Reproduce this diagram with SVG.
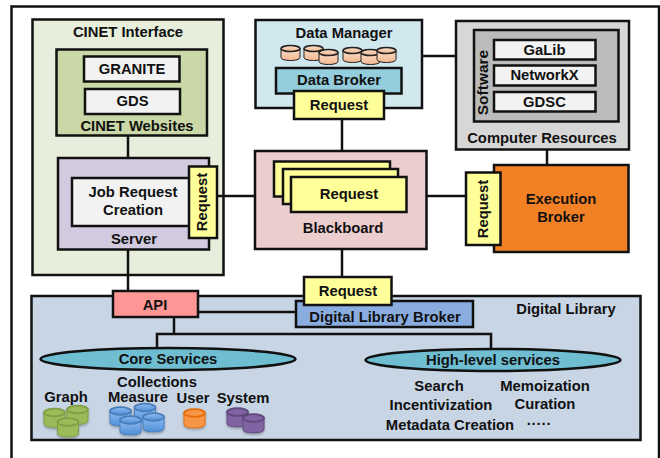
<svg xmlns="http://www.w3.org/2000/svg" width="660" height="458" viewBox="0 0 660 458">
<style>
text{font-family:"Liberation Sans",Arial,sans-serif;font-weight:700;font-size:14.8px;fill:#111;text-anchor:middle}
rect,ellipse{stroke:#111;stroke-width:2.5}
.c line,.c path{stroke:#111;stroke-width:2.5;fill:none}
.w{fill:#f2f2f2}.y{fill:#ffff99}
.cy path{stroke-width:1.8}
.or{fill:url(#gor);stroke:#222}.gr{fill:#9bbb59;stroke:#7f9f45}.bl{fill:url(#gbl);stroke:#4a7ebb}.og{fill:#f79646;stroke:#e46c0a}.pu{fill:#8064a2;stroke:#5f497a}
</style>
<defs>
<linearGradient id="gbl" x1="0" y1="0" x2="0" y2="1"><stop offset="0" stop-color="#8fbcf0"/><stop offset="1" stop-color="#4f8fd8"/></linearGradient>
<linearGradient id="gor" x1="0" y1="0" x2="0" y2="1"><stop offset="0" stop-color="#fbe0cc"/><stop offset="1" stop-color="#f3b68e"/></linearGradient>
<g id="cyl"><path d="M0 4V15.500C0 20 21 20 21 15.500V4"/><ellipse cx="10.500" cy="4" rx="10.500" ry="3.800" style="fill:inherit;stroke:inherit;stroke-width:1.8"/></g>
<g id="cyls"><path d="M0 3.500V12.500C0 16.500 19 16.500 19 12.500V3.500"/><ellipse cx="9.500" cy="3.500" rx="9.500" ry="3" style="fill:inherit;stroke:inherit;stroke-width:1.6"/></g>
<filter id="sh" x="-20%" y="-20%" width="140%" height="150%"><feDropShadow dx="0" dy="1.500" stdDeviation="1.200" flood-color="#000" flood-opacity=".3"/></filter>
</defs>
<rect x="11.500" y="6.500" width="647.500" height="470" fill="#fff"/>
<g id="cinet-interface"><rect x="32.500" y="19.500" width="191" height="255.500" fill="#e8eedc"/><text x="128" y="37">CINET Interface</text></g>
<g id="digital-library"><rect x="31.500" y="296" width="609" height="144" fill="#c8d5e5"/><text x="566" y="314">Digital Library</text></g>
<g id="connectors" class="c">
<line x1="128" y1="135" x2="128" y2="158"/>
<line x1="128" y1="250" x2="128" y2="292"/>
<line x1="217" y1="196" x2="255" y2="196"/>
<line x1="342" y1="119" x2="342" y2="151"/>
<line x1="422" y1="56" x2="456" y2="56"/>
<line x1="547" y1="150" x2="547" y2="165"/>
<line x1="426" y1="196" x2="466" y2="196"/>
<line x1="342" y1="249" x2="342" y2="277"/>
<line x1="198" y1="312" x2="296" y2="312"/>
<line x1="174" y1="317" x2="174" y2="334"/>
<path d="M157 348V334H491V349"/>
</g>
<g id="cinet-websites"><rect x="56.500" y="49.500" width="150.500" height="86" fill="#c9d8a6"/><text x="137" y="131">CINET Websites</text></g>
<g id="granite"><rect class="w" x="84" y="56.500" width="95.500" height="25"/><text x="132" y="74">GRANITE</text></g>
<g id="gds"><rect class="w" x="85" y="89" width="95" height="25"/><text x="132.500" y="106">GDS</text></g>
<g id="server"><rect x="58" y="158" width="151" height="91.500" fill="#d2cadf"/><text x="134" y="244">Server</text></g>
<g id="job-request"><rect class="w" x="72" y="178" width="118" height="48"/><text x="133" y="197">Job Request</text><text x="133" y="215">Creation</text></g>
<g id="request-server"><rect class="y" x="189" y="166.500" width="28" height="71.500"/><text transform="translate(207 202) rotate(-90)">Request</text></g>
<g id="data-manager"><rect x="255.500" y="20" width="166.500" height="88" fill="#d0e8ee"/><text x="344" y="38">Data Manager</text>
<g class="cy or"><use href="#cyls" x="281" y="45"/><use href="#cyls" x="304" y="45"/><use href="#cyls" x="319" y="49"/><use href="#cyls" x="343" y="47"/><use href="#cyls" x="361" y="49"/><use href="#cyls" x="377" y="47"/></g></g>
<g id="data-broker"><rect x="276" y="68" width="125.500" height="25.500" fill="#94cddb"/><text x="339" y="85">Data Broker</text></g>
<g id="request-data"><rect class="y" x="294" y="91" width="90" height="28"/><text x="339" y="110">Request</text></g>
<g id="computer-resources"><rect x="456" y="21" width="173" height="128.500" fill="#d7d7d7"/><text x="542" y="143">Computer Resources</text></g>
<g id="software"><rect x="474" y="30" width="144.500" height="91.500" fill="#bbb"/><text transform="translate(488 82.500) rotate(-90)" style="font-size:15.500px;font-weight:700">Software</text></g>
<g id="galib"><rect class="w" x="494" y="40" width="101.500" height="19.500"/><text x="544.500" y="54.500">GaLib</text></g>
<g id="networkx"><rect class="w" x="494" y="65.500" width="101.500" height="20"/><text x="544.500" y="80">NetworkX</text></g>
<g id="gdsc"><rect class="w" x="494" y="92" width="101.500" height="19.500"/><text x="544.500" y="106.500">GDSC</text></g>
<g id="execution-broker"><rect x="494" y="165" width="134.500" height="87" fill="#f28126"/><text x="561" y="204">Execution</text><text x="561" y="222">Broker</text></g>
<g id="request-exec"><rect class="y" x="466" y="172.500" width="34.500" height="72.500"/><text transform="translate(488 209) rotate(-90)">Request</text></g>
<g id="blackboard"><rect x="255" y="151" width="171.500" height="98" fill="#eccdcd"/><text x="343" y="233">Blackboard</text></g>
<g id="request-stack"><rect class="y" x="274" y="161.500" width="116" height="35"/><rect class="y" x="283" y="169" width="115" height="35"/><rect class="y" x="291" y="177" width="115.500" height="35"/><text x="349" y="199">Request</text></g>
<g id="dl-broker"><rect x="296" y="301" width="177" height="26" fill="#8aade0"/><text x="385" y="322">Digital Library Broker</text></g>
<g id="request-dl"><rect class="y" x="304" y="277" width="87.500" height="28"/><text x="348" y="296">Request</text></g>
<g id="api"><rect x="113" y="291" width="85" height="26" fill="#ff9696"/><text x="155" y="310">API</text></g>
<g id="core-services"><ellipse cx="168" cy="359" rx="127.500" ry="11" fill="#6ebdd1"/><text x="168" y="364">Core Services</text></g>
<g id="high-level"><ellipse cx="493" cy="360" rx="127.500" ry="11" fill="#6ebdd1"/><text x="493" y="365">High-level services</text></g>
<g id="core-items">
<text x="66" y="402">Graph</text><text x="157" y="387">Collections</text><text x="138" y="402">Measure</text><text x="193" y="403">User</text><text x="243" y="403">System</text>
<g class="cy gr" filter="url(#sh)"><use href="#cyl" x="44" y="408.500"/><use href="#cyl" x="67" y="405.500"/><use href="#cyl" x="57.500" y="418"/></g>
<g class="cy bl" filter="url(#sh)"><use href="#cyl" x="110" y="407"/><use href="#cyl" x="134.500" y="403.500"/><use href="#cyl" x="143" y="413"/><use href="#cyl" x="120" y="416"/></g>
<g class="cy og" filter="url(#sh)"><use href="#cyl" x="184" y="409"/></g>
<g class="cy pu" filter="url(#sh)"><use href="#cyl" x="227" y="408"/><use href="#cyl" x="243" y="414"/></g>
</g>
<g id="high-items">
<text x="439" y="391">Search</text><text x="545" y="391">Memoization</text><text x="441" y="410">Incentivization</text><text x="545" y="409">Curation</text><text x="450" y="430">Metadata Creation</text><text x="539" y="429">·····</text>
</g>
</svg>
